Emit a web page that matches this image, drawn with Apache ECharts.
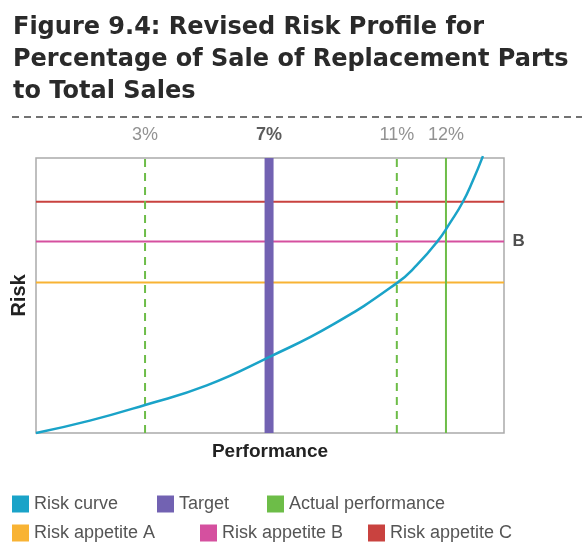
<!DOCTYPE html>
<html>
<head>
<meta charset="utf-8">
<script src="https://cdn.jsdelivr.net/npm/echarts@6/dist/echarts.min.js"></script>
<style>
  html, body { margin: 0; padding: 0; background: #fff; }
  #chart { width: 582px; height: 544px; }
</style>
</head>
<body>
<div id="chart"></div>
<script>
// risk curve (performance position 0-100, risk 0-100)
var curveX = [0, 11.5, 23.3, 36.5, 49.8, 63.5, 77.1, 81.4, 85.7, 88.5, 91.2, 93.4, 95.5];
var curveY = [0, 4.5, 10.2, 17.3, 27.6, 39.5, 54.5, 61.1, 69.5, 76.5, 84.0, 92.0, 100.7];

// vertical markers: position on the performance axis + label
var markerLabels = ['3%', '7%', '11%', '12%'];
var markerPos = [23.3, 49.8, 77.1, 87.6];

// risk appetite levels
var appetiteNames = ['Risk appetite A', 'Risk appetite B', 'Risk appetite C'];
var appetiteLevels = [54.7, 69.6, 84.1];

var colors = {
  curve: '#1aa3c8',
  target: '#7262b2',
  actual: '#6dbd48',
  A: '#f8b334',
  B: '#d5509f',
  C: '#c9423f'
};

function vline(i) {
  return [[markerPos[i], 0], [markerPos[i], 100]];
}

var chart = echarts.init(document.getElementById('chart'));

var series = [
  {
    name: 'Target',
    type: 'line',
    data: vline(1),
    symbol: 'none',
    lineStyle: { color: colors.target, width: 9 },
    itemStyle: { color: colors.target },
    z: 2
  },
  {
    name: 'limits',
    type: 'line',
    data: vline(0),
    symbol: 'none',
    lineStyle: { color: colors.actual, width: 2, type: [8, 6] },
    z: 2
  },
  {
    name: 'limits',
    type: 'line',
    data: vline(2),
    symbol: 'none',
    lineStyle: { color: colors.actual, width: 2, type: [8, 6] },
    z: 2
  },
  {
    name: 'Actual performance',
    type: 'line',
    data: vline(3),
    symbol: 'none',
    lineStyle: { color: colors.actual, width: 2 },
    itemStyle: { color: colors.actual },
    z: 2
  }
];

var keys = ['A', 'B', 'C'];
for (var k = 0; k < appetiteNames.length; k++) {
  series.push({
    name: appetiteNames[k],
    type: 'line',
    data: [[0, appetiteLevels[k]], [100, appetiteLevels[k]]],
    symbol: 'none',
    lineStyle: { color: colors[keys[k]], width: 2 },
    itemStyle: { color: colors[keys[k]] },
    z: 1
  });
}

series.push({
  name: 'Risk curve',
  type: 'line',
  data: curveX.map(function (x, i) { return [x, curveY[i]]; }),
  smooth: true,
  clip: false,
  symbol: 'none',
  lineStyle: { color: colors.curve, width: 2.5 },
  itemStyle: { color: colors.curve },
  z: 3
});

// percentage labels above the plot
series.push({
  name: 'marker labels',
  type: 'scatter',
  symbol: 'rect',
  symbolSize: 1,
  itemStyle: { color: 'rgba(0,0,0,0)' },
  silent: true,
  data: markerPos.map(function (x, i) {
    var bold = markerLabels[i] === '7%';
    return {
      value: [x, 100],
      label: {
        show: true,
        position: 'top',
        distance: 13,
        formatter: markerLabels[i],
        fontFamily: 'Liberation Sans',
        fontSize: 18,
        fontWeight: bold ? 'bold' : 'normal',
        color: bold ? '#333' : '#777'
      }
    };
  }),
  z: 4
});

// "B" tag to the right of appetite B
series.push({
  name: 'appetite tag',
  type: 'scatter',
  symbol: 'rect',
  symbolSize: 1,
  itemStyle: { color: 'rgba(0,0,0,0)' },
  silent: true,
  data: [{
    value: [100, appetiteLevels[1]],
    label: {
      show: true,
      position: 'right',
      distance: 8,
      formatter: 'B',
      fontFamily: 'Liberation Sans',
      fontSize: 17,
      fontWeight: 'bold',
      color: '#222'
    }
  }],
  z: 4
});

function legendItem(name, left, top) {
  return {
    icon: 'rect',
    itemWidth: 17,
    itemHeight: 17,
    left: left,
    top: top,
    padding: 0,
    textStyle: { fontFamily: 'Liberation Sans', fontSize: 18, color: '#555' },
    data: [name]
  };
}

var option = {
  animation: false,
  backgroundColor: '#fff',
  title: {
    text: 'Figure 9.4: Revised Risk Profile for\nPercentage of Sale of Replacement Parts\nto Total Sales',
    left: 8,
    top: 7,
    textStyle: {
      fontFamily: 'DejaVu Sans',
      fontSize: 24,
      fontWeight: 'bold',
      lineHeight: 32,
      color: '#2a2a2a'
    }
  },
  graphic: [{
    type: 'line',
    shape: { x1: 12, y1: 117, x2: 582, y2: 117 },
    style: { stroke: '#444', lineWidth: 1.5, lineDash: [7, 5] }
  }],
  legend: [
    legendItem('Risk curve', 12, 495),
    legendItem('Target', 157, 495),
    legendItem('Actual performance', 267, 495),
    legendItem('Risk appetite A', 12, 524),
    legendItem('Risk appetite B', 200, 524),
    legendItem('Risk appetite C', 368, 524)
  ],
  grid: {
    left: 36,
    right: 78,
    top: 158,
    bottom: 111,
    show: true,
    borderColor: '#aaa',
    borderWidth: 1.5
  },
  xAxis: {
    type: 'value',
    min: 0,
    max: 100,
    name: 'Performance',
    nameLocation: 'middle',
    nameGap: 9,
    nameTextStyle: { fontFamily: 'Liberation Sans', fontSize: 19, fontWeight: 'bold', color: '#222' },
    axisLine: { show: false },
    axisTick: { show: false },
    axisLabel: { show: false },
    splitLine: { show: false }
  },
  yAxis: {
    type: 'value',
    min: 0,
    max: 100,
    name: 'Risk',
    nameLocation: 'middle',
    nameGap: 7,
    nameTextStyle: { fontFamily: 'Liberation Sans', fontSize: 20, fontWeight: 'bold', color: '#222' },
    axisLine: { show: false },
    axisTick: { show: false },
    axisLabel: { show: false },
    splitLine: { show: false }
  },
  series: series
};

chart.setOption(option);
</script>
</body>
</html>
